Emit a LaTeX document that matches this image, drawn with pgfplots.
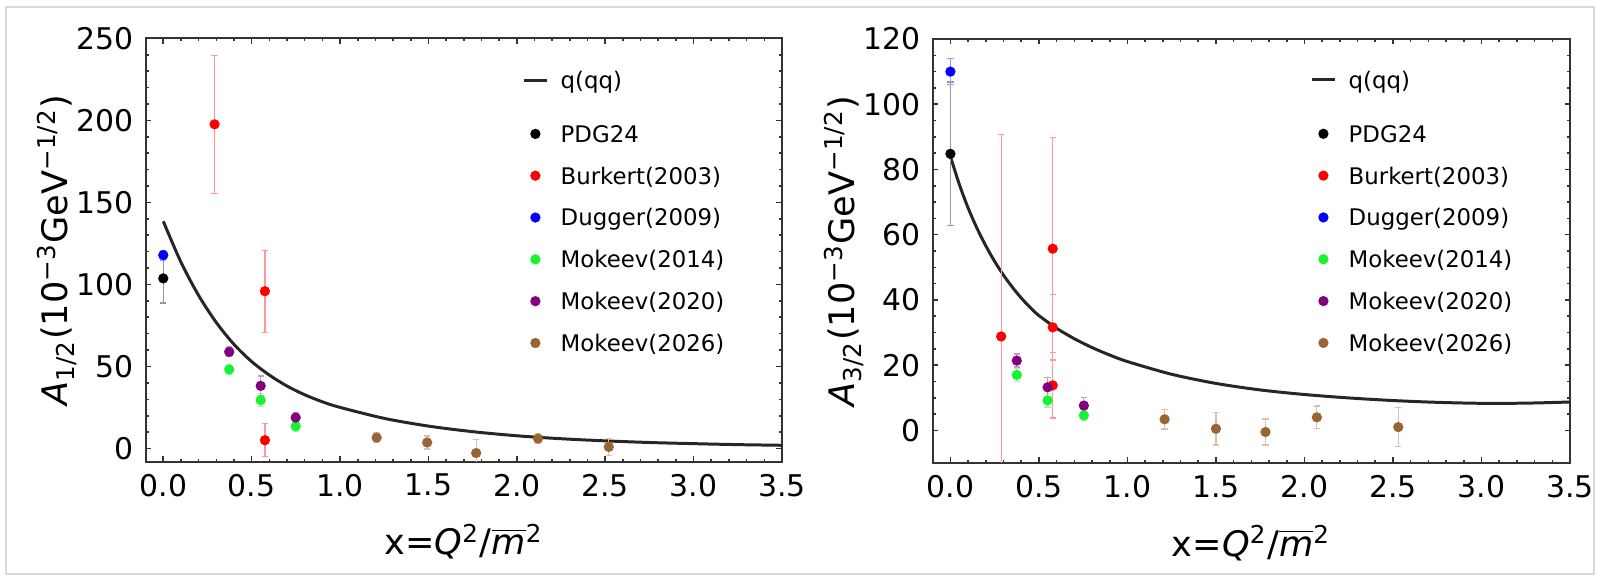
\documentclass[border=0pt]{standalone}
\usepackage{fontspec}
\setmainfont{DejaVu Sans}
\usepackage{pgfplots}
\pgfplotsset{compat=1.18}

\definecolor{mmaGreen}{rgb}{0.1,0.95,0.2}
\definecolor{mmaPurple}{rgb}{0.5,0,0.5}
\definecolor{mmaBrown}{rgb}{0.6,0.4,0.2}

\pgfplotsset{
  panel/.style={
    scale only axis, anchor=south west,
    xmin=-0.1, xmax=3.5,
    xtick={0,0.5,1,1.5,2,2.5,3,3.5}, minor x tick num=4,
    xticklabel style={/pgf/number format/.cd, fixed, fixed zerofill, precision=1},
    /pgf/number format/assume math mode=true,
    tick align=inside,
    major tick length=0.055cm, minor tick length=0.03cm,
    axis line style={black!80, line width=0.6pt},
    every tick/.style={black!80, line width=0.45pt},
    tick label style={font=\fontsize{8.5}{10}\selectfont},
    label style={font=\fontsize{10.5}{12}\selectfont},
    every axis y label/.style={at={(axis description cs:-0.122,0.5)}, rotate=90, anchor=base},
    every axis x label/.style={at={(axis description cs:0.5,-0.22)}, anchor=base},
    legend cell align=left,
    legend style={draw=none, fill=none, inner sep=0pt, row sep=7.1pt, column sep=3.5pt,
      anchor=north west, font=\fontsize{6.5}{7}\selectfont,
      nodes={inner sep=0pt, text height=4.8pt, text depth=0pt}},
  },
  curve/.style={black!85, line width=0.85pt, smooth,
    legend image code/.code={\draw[##1] (0cm,0cm) -- (0.23cm,0cm); \path (0cm,-5.4pt);}},
  pts/.style={color=#1, only marks, mark=*, mark size=1.25pt, mark options={draw=#1, fill=#1},
    error bars/.cd, y dir=both, y explicit,
      error bar style={line width=0.35pt, #1!40},
      error mark options={rotate=90, mark size=0.9pt, line width=0.35pt, #1!40},
    /pgfplots/.cd,
    legend image code/.code={\draw[mark repeat=2, mark phase=2, ##1] plot coordinates {(0cm,0cm) (0.115cm,0cm) (0.23cm,0cm)};}},
}

\begin{document}
\begin{tikzpicture}
\useasboundingbox (0,0) rectangle (15.98cm,5.77cm);
\draw[gray!30, line width=0.6pt] (0.06cm,0.03cm) rectangle (15.94cm,5.70cm);

% left panel: A_1/2
\begin{axis}[panel, at={(1.456cm,1.153cm)}, width=6.364cm, height=4.234cm,
  ymin=-8, ymax=250, ytick={0,50,100,150,200,250}, minor y tick num=4,
  ylabel={\textit{A}\textsubscript{1/2}(10\textsuperscript{−3}GeV\textsuperscript{−1/2})},
  xlabel={x=\textit{Q}\textsuperscript{2}/$\overline{\mbox{\textit{m}}}$\textsuperscript{2}},
  legend style={at={(0.591,0.923)}},
]
\addplot[curve] coordinates {
  (0.0,138.5) (0.1,113.6) (0.2,93.3) (0.3,76.8) (0.4,63.5) (0.5,53.0)
  (0.6,44.8) (0.7,38.1) (0.8,32.8) (0.9,28.5) (1.0,25.1) (1.25,18.4)
  (1.5,13.7) (1.75,10.3) (2.0,7.8) (2.25,6.0) (2.5,4.7) (2.75,3.7)
  (3.0,3.0) (3.25,2.4) (3.5,2.0)};
\addlegendentry{q(qq)}
\addplot[pts=black] coordinates {(0.0,103.7) +- (0,15)};
\addlegendentry{PDG24}
\addplot[pts=red] coordinates {(0.29,197.6) +- (0,42) (0.575,95.9) +- (0,25) (0.575,5.1) +- (0,10)};
\addlegendentry{Burkert(2003)}
\addplot[pts=blue] coordinates {(0.0,117.9) +- (0,3)};
\addlegendentry{Dugger(2009)}
\addplot[pts=mmaGreen] coordinates {(0.373,48.2) +- (0,3) (0.551,29.5) +- (0,4) (0.749,13.6) +- (0,3)};
\addlegendentry{Mokeev(2014)}
\addplot[pts=mmaPurple] coordinates {(0.373,58.9) +- (0,3) (0.551,38.2) +- (0,6) (0.749,18.9) +- (0,3)};
\addlegendentry{Mokeev(2020)}
\addplot[pts=mmaBrown] coordinates {(1.207,6.7) +- (0,3) (1.493,3.7) +- (0,4) (1.77,-2.7) +- (0,8) (2.12,6.1) +- (0,3) (2.52,1.0) +- (0,5)};
\addlegendentry{Mokeev(2026)}
\end{axis}

% right panel: A_3/2
\begin{axis}[panel, at={(9.327cm,1.14cm)}, width=6.373cm, height=4.24cm,
  ymin=-10, ymax=120, ytick={0,20,40,60,80,100,120}, minor y tick num=3,
  ylabel={\textit{A}\textsubscript{3/2}(10\textsuperscript{−3}GeV\textsuperscript{−1/2})},
  xlabel={x=\textit{Q}\textsuperscript{2}/$\overline{\mbox{\textit{m}}}$\textsuperscript{2}},
  legend style={at={(0.5916,0.925)}},
]
\addplot[curve] coordinates {
  (0.0,84.0) (0.05,75.5) (0.1,68.2) (0.15,62.0) (0.2,56.6) (0.25,51.8) (0.3,47.6)
  (0.35,43.9) (0.4,40.6) (0.45,37.7) (0.5,35.2) (0.6,31.3) (0.7,28.1) (0.8,25.4)
  (0.9,23.1) (1.0,21.1) (1.25,17.2) (1.5,14.4) (1.75,12.4) (2.0,11.0) (2.25,9.95)
  (2.5,9.15) (2.75,8.6) (3.0,8.3) (3.25,8.35) (3.5,8.7)};
\addlegendentry{q(qq)}
\addplot[pts=black] coordinates {(0.0,84.8) +- (0,22)};
\addlegendentry{PDG24}
\addplot[pts=red] coordinates {(0.287,28.8) +- (0,62) (0.578,55.7) +- (0,34) (0.578,31.6) +- (0,10) (0.578,13.8) +- (0,10)};
\addlegendentry{Burkert(2003)}
\addplot[pts=blue] coordinates {(0.0,110.0) +- (0,4)};
\addlegendentry{Dugger(2009)}
\addplot[pts=mmaGreen] coordinates {(0.375,17.0) +- (0,2) (0.549,9.2) +- (0,2) (0.754,4.6) +- (0,1.5)};
\addlegendentry{Mokeev(2014)}
\addplot[pts=mmaPurple] coordinates {(0.375,21.4) +- (0,2) (0.549,13.2) +- (0,3) (0.754,7.6) +- (0,2.5)};
\addlegendentry{Mokeev(2020)}
\addplot[pts=mmaBrown] coordinates {(1.21,3.4) +- (0,3) (1.50,0.5) +- (0,5) (1.78,-0.5) +- (0,4) (2.07,4.0) +- (0,3.5) (2.53,1.0) +- (0,6)};
\addlegendentry{Mokeev(2026)}
\end{axis}
\end{tikzpicture}
\end{document}
